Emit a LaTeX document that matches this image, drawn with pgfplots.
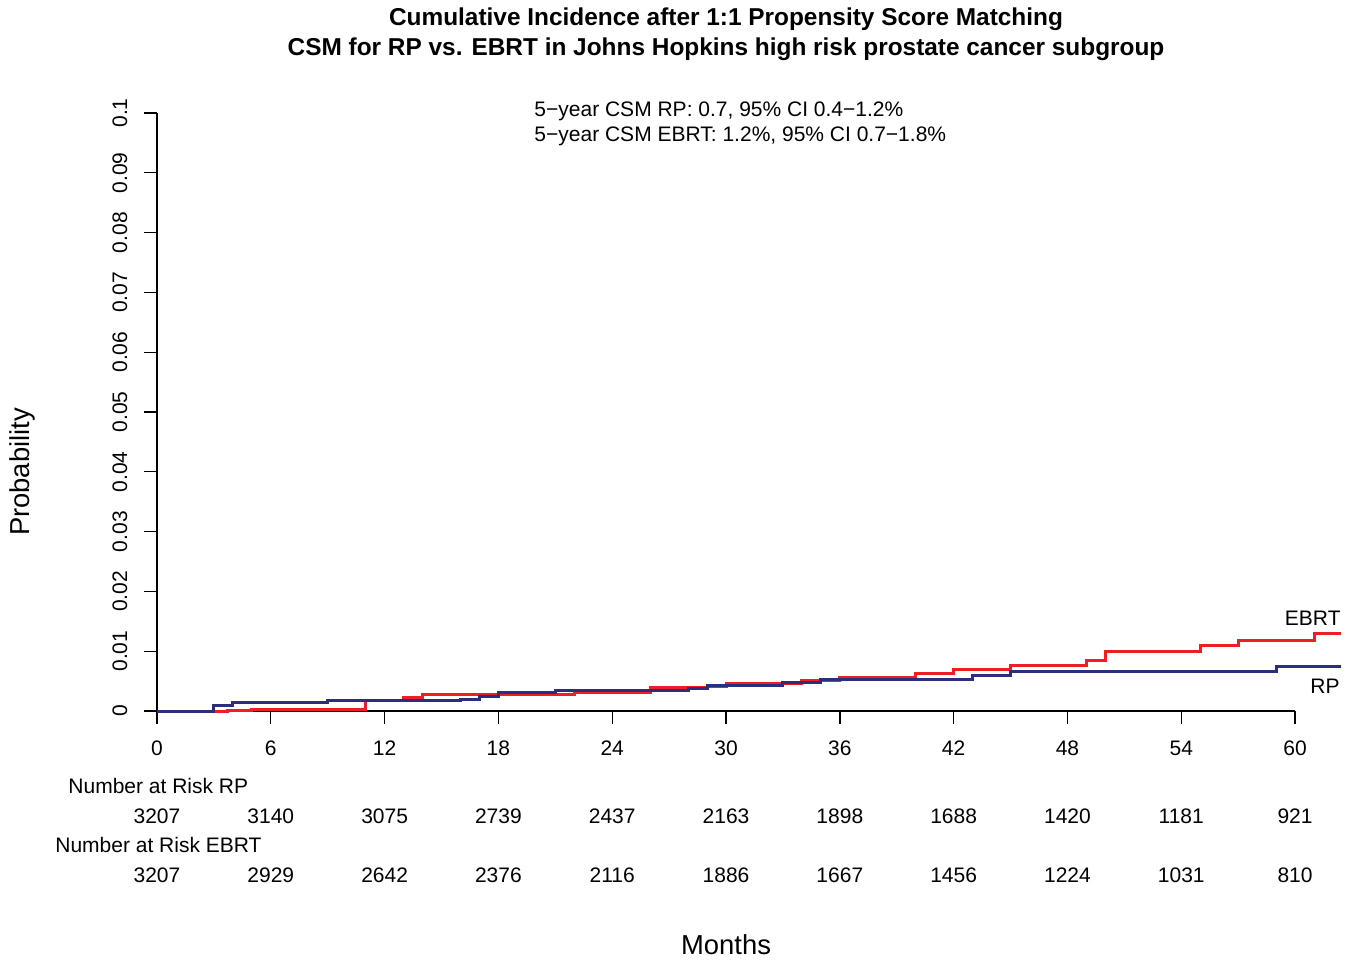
\documentclass[border=0pt]{standalone}
\usepackage{fontspec}
\setmainfont{Liberation Sans}
\usepackage{pgfplots}
\pgfplotsset{compat=1.18}

\definecolor{ebrtred}{RGB}{237,30,36}
\definecolor{rpblue}{RGB}{44,46,125}
\newcommand\fs{\fontsize{10.5}{12.6}\selectfont}
\newcommand\rk[3]{\node[font=\fs, inner sep=0pt] at (axis cs:#1,#2) {#3};}

\begin{document}
\begin{tikzpicture}
\begin{axis}[
  scale only axis, width=591.8pt, height=299pt,
  xmin=0, xmax=62.4, ymin=0, ymax=0.1,
  axis line style={draw=none},
  clip=false,
  tick align=outside, xtick pos=bottom, ytick pos=left,
  major tick length=6.25pt,
  tick style={black, line width=0.65pt},
  xtick={0,6,12,18,24,30,36,42,48,54,60},
  ytick={0,0.01,0.02,0.03,0.04,0.05,0.06,0.07,0.08,0.09,0.1},
  scaled y ticks=false,
  /pgf/number format/assume math mode=true,
  ticklabel style={font=\fs},
  yticklabel style={/pgf/number format/fixed, /pgf/number format/precision=2},
  xticklabel style={anchor=center, yshift=-12.25pt},
  yticklabel style={anchor=south, rotate=90},
  yticklabel shift=5pt,
]
\draw[line width=0.65pt] (axis cs:0,0) -- (axis cs:60,0);
\draw[line width=0.65pt] (axis cs:0,0) -- (axis cs:0,0.1);

% EBRT
\addplot[const plot, ebrtred, line width=1.5pt] coordinates {
(0,0) (3.7,0.0001) (5,0.0003) (11,0.0018) (13,0.0023) (14,0.0027) (22,0.0031)
(26,0.0039) (29,0.0041) (30,0.0046) (34,0.0051) (36,0.0056) (40,0.0062)
(42,0.0069) (45,0.0076) (49,0.0084) (50,0.0099) (55,0.0109) (57,0.0118)
(61,0.0130) (62.4,0.0130)};
% RP
\addplot[const plot, rpblue, line width=1.5pt] coordinates {
(0,0) (3,0.0010) (4,0.00145) (9,0.0017) (16,0.0020) (17,0.0024) (18,0.0031)
(21,0.0034) (28,0.0037) (29,0.0043) (33,0.0047) (35,0.0052) (43,0.0059)
(45,0.0066) (59,0.0075) (62.4,0.0075)};

\node[font=\fontsize{12.2}{14}\selectfont\bfseries] at (axis cs:30,0.11562) {Cumulative Incidence after 1:1 Propensity Score Matching};
\node[font=\fontsize{12.2}{14}\selectfont\bfseries] at (axis cs:30,0.11060) {CSM for RP vs. EBRT in Johns Hopkins high risk prostate cancer subgroup};

\node[font=\fs, anchor=west, inner sep=0pt] at (axis cs:19.88,0.10030) {5−year CSM RP: 0.7, 95\% CI 0.4−1.2\%};
\node[font=\fs, anchor=west, inner sep=0pt] at (axis cs:19.88,0.09612) {5−year CSM EBRT: 1.2\%, 95\% CI 0.7−1.8\%};

\node[font=\fs, anchor=east, inner sep=0pt] at (axis cs:62.42,0.01555) {EBRT};
\node[font=\fs, anchor=east, inner sep=0pt] at (axis cs:62.37,0.00418) {RP};

\node[font=\fs, anchor=west, inner sep=0pt] at (axis cs:-4.69,-0.01254) {Number at Risk RP};
\node[font=\fs, anchor=west, inner sep=0pt] at (axis cs:-5.38,-0.02241) {Number at Risk EBRT};
\rk{0}{-0.01756}{3207}\rk{6}{-0.01756}{3140}\rk{12}{-0.01756}{3075}\rk{18}{-0.01756}{2739}
\rk{24}{-0.01756}{2437}\rk{30}{-0.01756}{2163}\rk{36}{-0.01756}{1898}\rk{42}{-0.01756}{1688}
\rk{48}{-0.01756}{1420}\rk{54}{-0.01756}{1181}\rk{60}{-0.01756}{921}
\rk{0}{-0.02742}{3207}\rk{6}{-0.02742}{2929}\rk{12}{-0.02742}{2642}\rk{18}{-0.02742}{2376}
\rk{24}{-0.02742}{2116}\rk{30}{-0.02742}{1886}\rk{36}{-0.02742}{1667}\rk{42}{-0.02742}{1456}
\rk{48}{-0.02742}{1224}\rk{54}{-0.02742}{1031}\rk{60}{-0.02742}{810}

\node[font=\fontsize{13.7}{16}\selectfont] at (axis cs:30,-0.03913) {Months};
\node[font=\fontsize{13.7}{16}\selectfont, rotate=90] at (axis cs:-7.12,0.03997) {Probability};
\end{axis}
\pgfresetboundingbox
\path[use as bounding box] ([xshift=-78.5pt,yshift=-124.5pt]current axis.south west) rectangle ([xshift=599pt,yshift=355.5pt]current axis.south west);
\end{tikzpicture}
\end{document}
